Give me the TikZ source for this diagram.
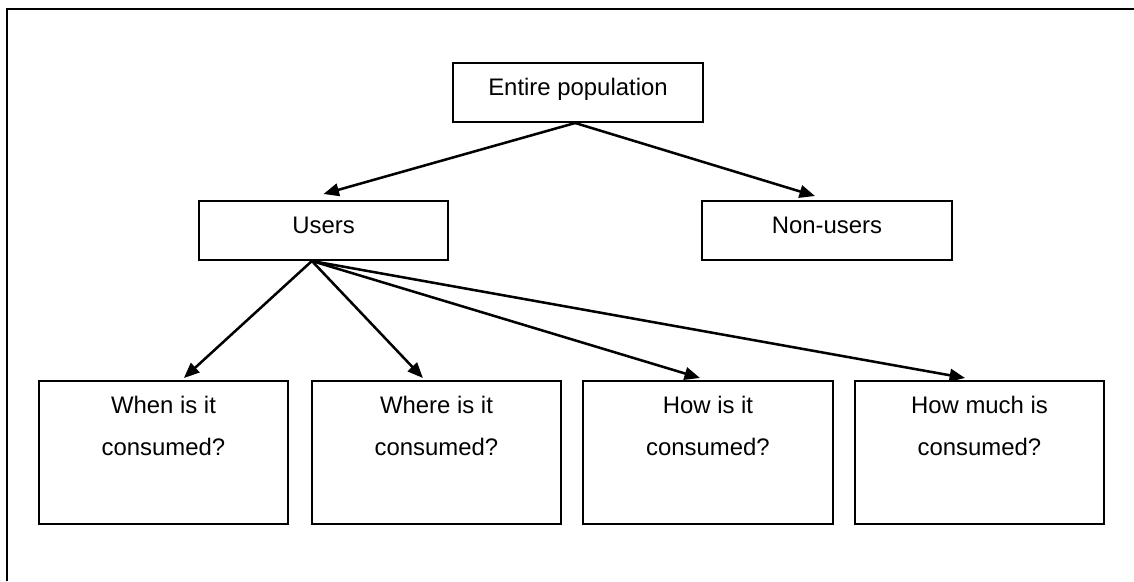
\documentclass[tikz,border=0pt]{standalone}
\usepackage{fontspec}
\setmainfont{Liberation Sans}
\usetikzlibrary{arrows.meta}

\begin{document}
\begin{tikzpicture}[x = 0.025cm, y = -0.025cm,
    every node/.style = {font = \fontsize{17}{20}\selectfont},
    box/.style = {rectangle, draw = black, line width = 1.4pt,
      minimum width = 6.225cm, minimum height = 1.475cm,
      text height = 12pt, text depth = 8pt},
    qbox/.style = {rectangle, draw = black, line width = 1.4pt,
      minimum width = 6.225cm, minimum height = 3.575cm},
    qtext/.style = {anchor = north, align = center, inner sep = 0pt,
      font = \fontsize{17}{29.8}\selectfont, yshift = -0.4cm},
    link/.style = {-{Triangle[length = 11pt, width = 9pt]}, line width = 1.8pt}]

    \useasboundingbox (0,0) rectangle (1134,581);

    % frame
    \draw[line width = 2pt] (1134,9) -- (7,9) -- (7,581);

    \node[box] (pop) at (578,92.5) {Entire population};

    \node[box] (users) at (323.5,230.5) {Users};
    \node[box] (nonusers) at (827,230.5) {Non-users};

    \node[qbox] (q1) at (163.5,452.5) {};
    \node[qbox] (q2) at (436.5,452.5) {};
    \node[qbox] (q3) at (708,452.5) {};
    \node[qbox] (q4) at (979.5,452.5) {};

    \node[qtext] (q1t) at (q1.north) {When is it\\consumed?};
    \node[qtext] (q2t) at (q2.north) {Where is it\\consumed?};
    \node[qtext] (q3t) at (q3.north) {How is it\\consumed?};
    \node[qtext] (q4t) at (q4.north) {How much is\\consumed?};

      \draw[link] ([xshift = -0.07cm]pop.south) to ([yshift = 0.15cm]users.north);
      \draw[link] ([xshift = -0.07cm]pop.south) to ([xshift = -0.3cm, yshift = 0.1cm]nonusers.north);

      \draw[link] ([xshift = -0.29cm]users.south) to ([xshift = 0.51cm, yshift = 0.05cm]q1.north);
      \draw[link] ([xshift = -0.29cm]users.south) to ([xshift = -0.34cm, yshift = 0.05cm]q2.north);
      \draw[link] ([xshift = -0.29cm]users.south) to ([xshift = -0.2cm, yshift = 0.05cm]q3.north);
      \draw[link] ([xshift = -0.29cm]users.south) to ([xshift = -0.36cm, yshift = 0.05cm]q4.north);
  \end{tikzpicture}
\end{document}
